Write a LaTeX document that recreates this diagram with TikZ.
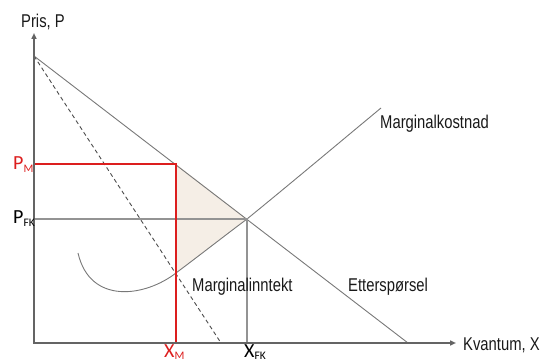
\documentclass[tikz,border=0pt]{standalone}
\usepackage{fontspec}
\setmainfont{Liberation Sans}[FakeStretch=0.8]
\newfontfamily\labfont{Carlito}
\usetikzlibrary{arrows.meta}

\definecolor{axisgray}{RGB}{100,100,100}
\definecolor{linegray}{RGB}{120,120,120}
\definecolor{mred}{RGB}{220,30,30}
\definecolor{dwl}{RGB}{245,238,230}

\newcommand\lowtxt[1]{\raisebox{-2pt}{\fontsize{11.5}{12}\selectfont #1}}

\begin{document}
\begin{tikzpicture}[
    x=1pt, y=-1pt,
    >={Triangle[length=6pt,width=5pt]},
    font=\fontsize{18.5}{20}\selectfont,
    axis/.style={->, line width=2pt, draw=axisgray},
    curve/.style={line width=0.9pt, draw=linegray},
    guide/.style={line width=1.3pt, draw=linegray!80},
    mono/.style={line width=2pt, draw=mred},
    lbl/.style={inner sep=0pt, anchor=base west, text=black!90},
    sym/.style={inner sep=0pt, anchor=base west, font=\labfont\fontsize{20}{22}\selectfont},
]
\useasboundingbox (0,0) rectangle (542,361);

% key points
\coordinate (O) at (34,343);
\coordinate (Ptop) at (34,56);
\coordinate (Dend) at (408,343);
\coordinate (MRend) at (221,343);
\coordinate (M) at (176,164);
\coordinate (E) at (247,219);
\coordinate (Q) at (176,273);

% deadweight loss
\fill[dwl] (M) -- (E) .. controls (223,237) and (200,255) .. (Q) -- cycle;

% curves
\draw[curve] (Ptop) -- (Dend);
\draw[curve, draw=black!70, dash pattern=on 4pt off 3pt] (Ptop) -- (MRend);
\draw[curve] (78,253) .. controls (90,305) and (145,297) .. (Q)
    .. controls (200,255) and (223,237) .. (E)
    .. controls (290,184) and (340,142) .. (381,108);

% guides
\draw[guide] (34,219) -- (E) -- (247,343);
\draw[mono] (34,164) -- (M) -- (176,343);

% axes
\draw[axis] (O) -- (34,33);
\draw[axis] (33,343) -- (456,343);

% labels
\node[lbl] (ylab) at (21,28) {Pris, P};
\node[lbl] (xlab) at (463,350) {Kvantum, X};
\node[lbl] (mc) at (380,129) {Marginalkostnad};
\node[lbl] (mr) at (192,291) {Marginalinntekt};
\node[lbl] (dem) at (348,291) {Etterspørsel};
\node[sym, text=mred] (pm) at (13,170) {P\lowtxt{M}};
\node[sym] (pfk) at (13,224) {P\lowtxt{FK}};
\node[sym, text=mred] (xm) at (164,357) {X\lowtxt{M}};
\node[sym] (xfk) at (244,357) {X\lowtxt{FK}};

\end{tikzpicture}
\end{document}
